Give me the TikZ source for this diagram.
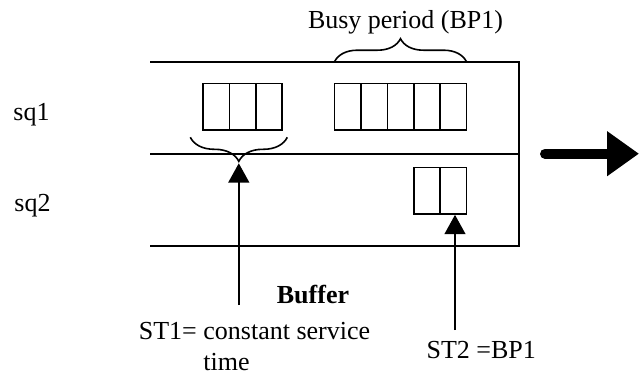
\documentclass[tikz,border=0pt]{standalone}
\usepackage{fontspec}
\setmainfont{Liberation Serif}
\usetikzlibrary{arrows.meta, positioning, decorations.pathreplacing}

\tikzstyle{cell} = [rectangle, draw, line width=0.8pt, minimum width=13.2pt, minimum height=23.35pt, inner sep=0pt]
\tikzstyle{rail} = [draw, line width=0.8pt]
\tikzstyle{pointer} = [draw, line width=0.8pt, -{Triangle[length=9.6pt, width=10.4pt]}]
\tikzstyle{curly} = [draw, line width=0.8pt, decorate, decoration={brace, amplitude=12pt}]
\tikzstyle{txt} = [font=\fontsize{13}{15.6}\selectfont, inner sep=0pt]

\begin{document}
\begin{tikzpicture}[x=0.5pt, y=-0.5pt, node distance=13.2pt]
    \useasboundingbox (0,0) rectangle (639,376);

    % Queue frame
    \path [rail] (150,61.7) -- (519,61.7) -- (519,245.7) -- (150,245.7);
    \path [rail] (150,153.7) -- (519,153.7);

    % Cells of sq1
    \node [cell] (a1) at (216.2,106.7) {};
    \node [cell, right of=a1] (a2) {};
    \node [cell, right of=a2] (a3) {};

    \node [cell] (b1) at (347.7,106.7) {};
    \node [cell, right of=b1] (b2) {};
    \node [cell, right of=b2] (b3) {};
    \node [cell, right of=b3] (b4) {};
    \node [cell, right of=b4] (b5) {};

    % Cells of sq2
    \node [cell, below of=b4, node distance=42pt] (c1) {};
    \node [cell, right of=c1] (c2) {};

    % Braces
    \path [curly] (287.3,137.3) -- (190.3,137.3);
    \path [curly, decoration={amplitude=11.5pt}] (334.5,61.7) -- (466.5,61.7);

    % Labels
    \node [txt, anchor=base] (sq1) at (31.5,120) {sq1};
    \node [txt, anchor=base] (sq2) at (32.5,211.7) {sq2};
    \node [txt, anchor=base] (busy) at (405.5,28) {Busy period (BP1)};
    \node [txt, anchor=base, font={\fontsize{13}{15.6}\selectfont\bfseries}] (buffer) at (313,303.3) {Buffer};
    \node [txt, anchor=base west] (st1) at (138.5,339.3) {\begin{tabular}[t]{@{}l@{ }l@{}}
        ST1= & constant service\\
             & time
    \end{tabular}};
    \node [txt, anchor=base] (st2) at (481.3,358) {ST2 =BP1};

    % Arrows
    \coordinate (buf) at (238.8,305);
    \coordinate (tip1) at (238.8,163.3);
    \coordinate (st2top) at (455,330);
    \path [pointer] (buf) -- (tip1);
    \path [pointer] (st2top) -- (st2top |- c2.south);

    \coordinate (out1) at (545,153.7);
    \coordinate (out2) at (639,153.7);
    \draw [line width=5pt, line cap=round, -{Triangle[length=16pt, width=21.5pt]}] (out1) -- (out2);
\end{tikzpicture}
\end{document}
